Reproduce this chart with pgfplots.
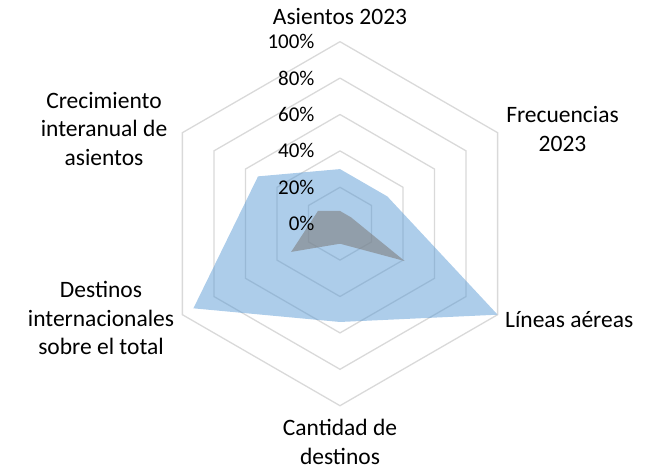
\documentclass[border=0pt]{standalone}
\usepackage{fontspec}
\setmainfont{Carlito}
\usepackage{pgfplots}
\usepgfplotslibrary{polar}
\pgfplotsset{compat=1.18}

\definecolor{serieA}{RGB}{91,155,213}
\definecolor{serieB}{RGB}{128,128,128}
\definecolor{grilla}{RGB}{217,217,217}

\newcommand{\cat}{\fontsize{23.5}{28.5}\selectfont}
\newcommand{\tck}{\fontsize{21}{25}\selectfont}

\begin{document}
\begin{tikzpicture}[x=1pt,y=1pt]
\useasboundingbox (0,0) rectangle (658,470);
\begin{polaraxis}[
    at={(340pt,246.3pt)}, anchor=center,
    scale only axis, width=364pt, height=364pt,
    xmin=0, xmax=360, ymin=0, ymax=100,
    hide axis, clip=false,
]
% hexagonal grid, 20% steps
\addplot[grilla, line width=1.3pt] coordinates {(90,20) (30,20) (330,20) (270,20) (210,20) (150,20) (90,20)};
\addplot[grilla, line width=1.3pt] coordinates {(90,40) (30,40) (330,40) (270,40) (210,40) (150,40) (90,40)};
\addplot[grilla, line width=1.3pt] coordinates {(90,60) (30,60) (330,60) (270,60) (210,60) (150,60) (90,60)};
\addplot[grilla, line width=1.3pt] coordinates {(90,80) (30,80) (330,80) (270,80) (210,80) (150,80) (90,80)};
\addplot[grilla, line width=1.3pt] coordinates {(90,100) (30,100) (330,100) (270,100) (210,100) (150,100) (90,100)};

% series (angle, percent)
\addplot[draw=none, fill=serieA, fill opacity=0.5] coordinates {(90,30) (30,30) (330,100) (270,54) (210,93) (150,52) (90,30)};
\addplot[draw=none, fill=serieB, fill opacity=0.6] coordinates {(90,7) (30,7) (330,41) (270,11) (210,31) (150,14) (90,7)};

% radial tick labels
\node[anchor=east, xshift=-22pt, font=\tck] at (axis cs:90,100) {100\%};
\node[anchor=east, xshift=-22pt, font=\tck] at (axis cs:90,80) {80\%};
\node[anchor=east, xshift=-22pt, font=\tck] at (axis cs:90,60) {60\%};
\node[anchor=east, xshift=-22pt, font=\tck] at (axis cs:90,40) {40\%};
\node[anchor=east, xshift=-22pt, font=\tck] at (axis cs:90,20) {20\%};
\node[anchor=east, xshift=-22pt, font=\tck] at (axis cs:90,0) {0\%};
\end{polaraxis}

% category labels
\node[font=\cat, align=center] at (340,453) {Asientos 2023};
\node[font=\cat, align=center] at (562.5,341) {Frecuencias\\2023};
\node[font=\cat, anchor=west, inner sep=0pt] at (505,150) {Líneas aéreas};
\node[font=\cat, align=center] at (340,28) {Cantidad de\\destinos};
\node[font=\cat, align=center] at (101,152) {Destinos\\internacionales\\sobre el total};
\node[font=\cat, align=center] at (104,341) {Crecimiento\\interanual de\\asientos};
\end{tikzpicture}
\end{document}
